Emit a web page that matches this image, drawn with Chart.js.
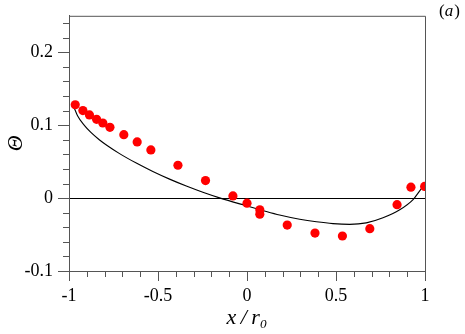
<!DOCTYPE html>
<html>
<head>
<meta charset="utf-8">
<script src="https://cdn.jsdelivr.net/npm/chart.js@4"></script>
<style>
  html, body { margin: 0; padding: 0; background: #fff; }
  #wrap { width: 465px; height: 334px; }
</style>
</head>
<body>
<div id="wrap"><canvas id="thetaChart" width="465" height="334"></canvas></div>
<script>
// measured points (red dots)
const measX = [-0.965, -0.922, -0.885, -0.845, -0.810, -0.770, -0.692, -0.617, -0.540, -0.388,
  -0.233, -0.079, 0.0, 0.072, 0.072, 0.226, 0.382, 0.536, 0.690, 0.843, 0.921, 0.998];
const measY = [0.128, 0.120, 0.114, 0.108, 0.103, 0.097, 0.087, 0.077, 0.066, 0.045,
  0.024, 0.003, -0.007, -0.016, -0.022, -0.037, -0.048, -0.052, -0.042, -0.009, 0.015, 0.016];

// model curve
const curveX = [-0.971, -0.952, -0.915, -0.877, -0.830, -0.788, -0.716, -0.622, -0.529, -0.435,
  -0.341, -0.248, -0.154, -0.004, 0.089, 0.183, 0.296, 0.390, 0.483, 0.577, 0.670, 0.764, 0.858, 0.933, 0.980, 1.0];
const curveY = [0.124, 0.113, 0.100, 0.090, 0.080, 0.0725, 0.061, 0.048, 0.0365, 0.026,
  0.0165, 0.008, 0.0003, -0.0105, -0.017, -0.0232, -0.029, -0.0325, -0.035, -0.036, -0.034, -0.027, -0.016, -0.002, 0.013, 0.018];

// axis ranges / ticks
const xRange = [-1, 1];
const yRange = [-0.1, 0.25];
const xMajor = 0.5, xMinor = 0.1;
const yMajor = 0.1, yMinor = 0.02;

const toPts = (xs, ys) => xs.map((x, i) => ({ x: x, y: ys[i] }));
const fmt = v => String(Math.round(v * 100) / 100);
const serif = "'Liberation Serif', 'DejaVu Serif', serif";
const axisGray = '#555';

// minor ticks, box border and the (a) tag
const framePlugin = {
  id: 'frame',
  afterDraw(chart) {
    const { ctx, chartArea: a, scales: { x, y } } = chart;
    ctx.save();
    ctx.strokeStyle = axisGray;
    ctx.lineWidth = 1;
    ctx.beginPath();
    ctx.moveTo(a.left, a.top + 0.5);
    ctx.lineTo(a.right + 0.5, a.top + 0.5);
    ctx.lineTo(a.right + 0.5, a.bottom);
    ctx.stroke();

    ctx.beginPath();
    for (let v = xRange[0]; v <= xRange[1] + 1e-9; v += xMinor) {
      const px = Math.round(x.getPixelForValue(v)) + 0.5;
      ctx.moveTo(px, a.bottom);
      ctx.lineTo(px, a.bottom + 6);
    }
    for (let v = yRange[0]; v <= yRange[1] + 1e-9; v += yMinor) {
      const py = Math.round(y.getPixelForValue(v)) + 0.5;
      ctx.moveTo(a.left - 6, py);
      ctx.lineTo(a.left, py);
    }
    ctx.stroke();

    // (a)
    ctx.fillStyle = '#000';
    ctx.textBaseline = 'alphabetic';
    let tx = a.right + 14;
    const ty = 16;
    ctx.font = '17px ' + serif;
    ctx.fillText('(', tx, ty); tx += ctx.measureText('(').width;
    ctx.font = 'italic 17px ' + serif;
    ctx.fillText('a', tx, ty); tx += ctx.measureText('a').width + 1;
    ctx.font = '17px ' + serif;
    ctx.fillText(')', tx, ty);
    ctx.restore();
  }
};

new Chart(document.getElementById('thetaChart').getContext('2d'), {
  type: 'scatter',
  data: {
    datasets: [{
      label: 'model',
      data: toPts(curveX, curveY),
      showLine: true,
      borderColor: '#000',
      borderWidth: 1.1,
      pointRadius: 0,
      cubicInterpolationMode: 'monotone',
      order: 2
    }, {
      label: 'measured',
      data: toPts(measX, measY),
      backgroundColor: '#ff0000',
      borderWidth: 0,
      pointRadius: 4.6,
      order: 1
    }]
  },
  options: {
    responsive: false,
    animation: false,
    layout: { padding: { top: 6, right: 40, left: 0, bottom: 0 } },
    plugins: { legend: { display: false }, tooltip: { enabled: false } },
    scales: {
      x: {
        type: 'linear',
        min: xRange[0],
        max: xRange[1],
        afterFit: s => { s.height = 63; },
        border: { color: axisGray, width: 1 },
        grid: { drawOnChartArea: false, tickLength: 10, tickColor: axisGray },
        ticks: {
          stepSize: xMajor,
          padding: 4,
          color: '#000',
          font: { family: serif, size: 18 },
          callback: v => fmt(v)
        },
        title: {
          display: true,
          text: 'x\u2009/\u2009r₀',
          color: '#000',
          font: { family: serif, size: 22, style: 'italic' },
          padding: { bottom: 3 }
        }
      },
      y: {
        min: yRange[0],
        max: yRange[1],
        afterFit: s => { s.width = 69; },
        border: { color: axisGray, width: 1 },
        grid: {
          tickLength: 11,
          tickColor: axisGray,
          color: c => (c.tick && Math.abs(c.tick.value) < 1e-9 ? '#000' : 'rgba(0,0,0,0)')
        },
        ticks: {
          stepSize: yMajor,
          includeBounds: false,
          padding: 5,
          color: '#000',
          font: { family: serif, size: 18 },
          callback: v => fmt(v)
        },
        title: {
          display: true,
          text: 'Θ',
          color: '#000',
          font: { family: serif, size: 22, style: 'italic' },
          padding: { top: 3 }
        }
      }
    }
  },
  plugins: [framePlugin]
});
</script>
</body>
</html>
